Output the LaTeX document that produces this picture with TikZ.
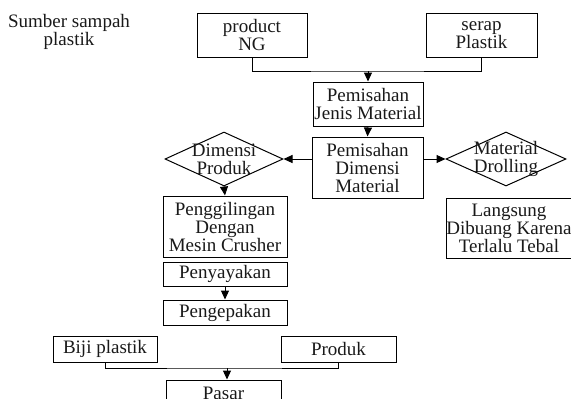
\documentclass[tikz,border=0pt]{standalone}
\usepackage{fontspec}
\setmainfont{Liberation Serif}
\usetikzlibrary{shapes.geometric,arrows.meta}

\begin{document}
\begin{tikzpicture}[x=1pt,y=-1pt,>={Triangle[length=9pt,width=8pt]}]

\tikzstyle{every node}=[font=\fontsize{19}{18}\selectfont,text=black!90]
\tikzstyle{box}=[rectangle,draw,line width=1pt,align=center,inner sep=0pt]
\tikzstyle{decision}=[diamond,draw,line width=1pt,inner sep=0pt,aspect=2.2]
\tikzstyle{link}=[line width=1pt]

\useasboundingbox (0,0) rectangle (571,399);
\clip (0,0) rectangle (571,399);

%sources
\node[align=center] (src) at (69,32) {Sumber sampah\\plastik};
\node[box,minimum width=110pt,minimum height=44pt] (ng) at (252,35) {product\\NG};
\node[box,minimum width=111pt,minimum height=44pt] (serap) at (481.5,35) {serap\\Plastik};

%separation
\node[box,minimum width=110pt,minimum height=44pt] (jenis) at (368,104) {Pemisahan\\Jenis Material};
\node[box,minimum width=111pt,minimum height=61pt] (dimensi) at (367.5,167.5) {Pemisahan\\Dimensi\\Material};

%decisions
\node[decision,minimum width=118pt,minimum height=54pt] (dprod) at (224,159) {};
\node[align=center] (dprodtxt) at (224,159) {Dimensi\\Produk};
\node[decision,minimum width=120pt,minimum height=54pt] (droll) at (506,159) {};
\node[align=center] (drolltxt) at (506,159) {Material\\Drolling};

%process
\node[box,minimum width=124pt,minimum height=61pt] (crusher) at (225,226.5) {Penggilingan\\Dengan\\Mesin Crusher};
\node[box,minimum width=124pt,minimum height=60pt] (buang) at (509,228) {Langsung\\Dibuang Karena\\Terlalu Tebal};
\node[box,minimum width=124pt,minimum height=24pt] (ayak) at (225,274) {Penyayakan};
\node[box,minimum width=124pt,minimum height=25pt] (kemas) at (225,312.5) {Pengepakan};

%output
\node[box,minimum width=104pt,minimum height=26pt] (biji) at (105,349) {Biji plastik};
\node[box,minimum width=115pt,minimum height=26pt] (produk) at (338.5,349) {Produk};
\node[box,minimum width=115pt,minimum height=26pt] (pasar) at (223.5,393) {Pasar};

%connections
\coordinate (join1) at (368,71);
\coordinate (join2) at (227,368);
\draw[link] (ng.south) |- (join1) -| (serap.south);
\draw[link,->] (join1) -- (jenis.north);
\draw[link,->] (jenis.south) -- (dimensi.north);
\draw[link,->] (dimensi.west |- dprod.east) -- (dprod.east);
\draw[link,->] (dimensi.east |- droll.west) -- (droll.west);
\draw[link,->] (dprod.south) -- (crusher.north);
\draw[link,->] (ayak.south) -- (kemas.north);
\draw[link] (biji.south) |- (join2) -| (produk.south);
\draw[link,->] (join2) -- (pasar.north -| join2);

\end{tikzpicture}
\end{document}
